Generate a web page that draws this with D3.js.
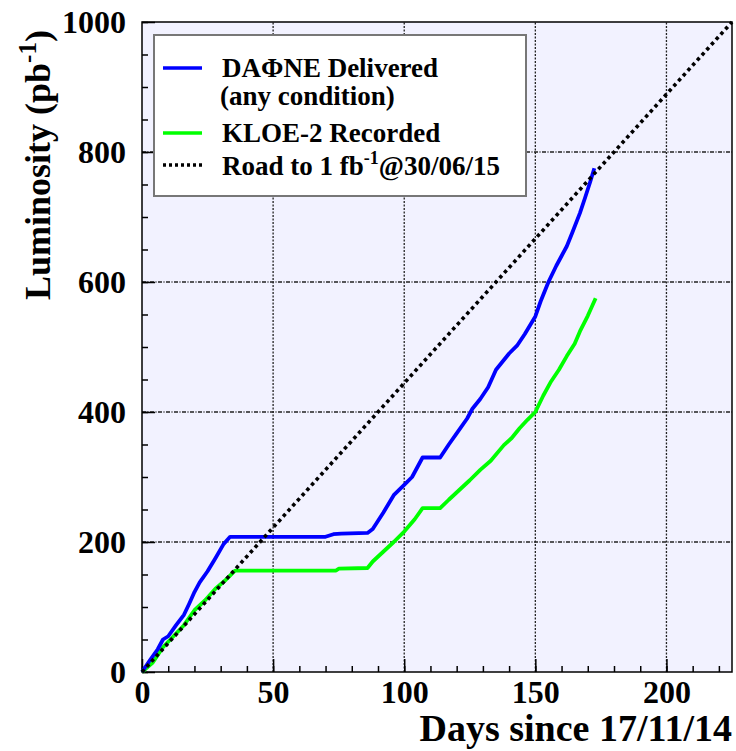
<!DOCTYPE html>
<html>
<meta charset="utf-8">
<style>
body { margin: 0; background: #fff; }
text { font-family: "Liberation Serif", "DejaVu Serif", serif; font-weight: bold; fill: #000; }
</style>
<body>
<script src="https://d3js.org/d3.v7.min.js"></script>
<script>
// DAFNE delivered luminosity, days since 17/11/14 vs pb^-1
var deliveredDays = [0, 3, 6, 8, 10, 13, 16, 18, 20, 22, 25, 28, 31, 33.6, 50, 70, 73, 76, 86, 88, 92, 96, 100, 103, 107, 113.7,
  117, 120, 124, 126, 129, 132, 135, 137, 140, 143, 146, 150, 152, 155, 158, 160, 162, 164, 167, 169, 171, 172.5];
var deliveredLumi = [0, 18, 35, 50, 55, 72, 88, 105, 123, 138, 155, 175, 196, 208, 208, 208, 212, 213, 214, 220, 245, 272, 288, 300, 330, 330,
  350, 367, 390, 405, 420, 438, 465, 475, 490, 502, 520, 547, 570, 600, 625, 640, 655, 675, 706, 730, 755, 775];

// KLOE-2 recorded
var recordedDays = [0, 4, 8, 12, 16, 20, 24, 28, 32, 35.5, 50, 74, 75, 86, 88, 92, 96, 100, 104, 107, 113.7,
  117, 121, 125, 129, 133, 138, 141, 144, 147, 150, 153, 156, 159, 162, 165, 167, 170, 173];
var recordedLumi = [0, 14, 38, 55, 72, 95, 110, 128, 142, 156, 156, 156, 159, 160, 170, 185, 200, 216, 235, 252, 252,
  265, 280, 295, 311, 325, 349, 360, 375, 388, 400, 425, 447, 465, 486, 505, 524, 548, 575];

// road to 1 fb^-1 at 30/06/15 (day 225)
var roadDays = [0, 225];
var roadLumi = [0, 1000];

var xTicks = [0, 50, 100, 150, 200];
var yTicks = [0, 200, 400, 600, 800, 1000];

var width = 736, height = 751;
var margin = {top: 22, right: 4, bottom: 79, left: 142};

var x = d3.scaleLinear().domain([0, 225]).range([margin.left, width - margin.right]);
var y = d3.scaleLinear().domain([0, 1000]).range([height - margin.bottom, margin.top]);

var svg = d3.select("body").append("svg")
    .attr("width", width)
    .attr("height", height);

// plot area background
svg.append("rect")
    .attr("x", x(0)).attr("y", y(1000))
    .attr("width", x(225) - x(0)).attr("height", y(0) - y(1000))
    .attr("fill", "#f2f2ff");

// grid
svg.selectAll(".gx").data(xTicks.filter(function(d) { return d > 0; }))
  .enter().append("line")
    .attr("x1", function(d) { return x(d); }).attr("x2", function(d) { return x(d); })
    .attr("y1", y(0)).attr("y2", y(1000))
    .attr("stroke", "#222").attr("stroke-width", 1.3).attr("stroke-dasharray", "2,1.5");
svg.selectAll(".gy").data(yTicks.filter(function(d) { return d > 0 && d < 1000; }))
  .enter().append("line")
    .attr("x1", x(0)).attr("x2", x(225))
    .attr("y1", function(d) { return y(d); }).attr("y2", function(d) { return y(d); })
    .attr("stroke", "#222").attr("stroke-width", 1.3).attr("stroke-dasharray", "4,1.5,1,1.5");

// axes: major ticks inside, minor ticks
function styleAxis(g) {
  g.select(".domain").remove();
  g.selectAll("line").attr("stroke", "#000").attr("stroke-width", 1.5);
  g.selectAll("text")
      .style("font-size", "32px")
      .style("font-family", "Liberation Serif")
      .style("font-weight", "bold");
}
svg.append("g")
    .attr("transform", "translate(0," + y(0) + ")")
    .call(d3.axisBottom(x).tickValues(d3.range(0, 226, 10)).tickSize(-6).tickFormat(""))
    .call(styleAxis);
svg.append("g")
    .attr("transform", "translate(0," + y(0) + ")")
    .call(d3.axisBottom(x).tickValues(xTicks).tickSize(-13).tickPadding(8).tickFormat(d3.format("d")))
    .call(styleAxis);
svg.append("g")
    .attr("transform", "translate(" + x(0) + ",0)")
    .call(d3.axisLeft(y).tickValues(d3.range(0, 1001, 50)).tickSize(-6).tickFormat(""))
    .call(styleAxis);
svg.append("g")
    .attr("transform", "translate(" + x(0) + ",0)")
    .call(d3.axisLeft(y).tickValues(yTicks).tickSize(-13).tickPadding(16).tickFormat(d3.format("d")))
    .call(styleAxis);

// frame
svg.append("rect")
    .attr("x", x(0)).attr("y", y(1000))
    .attr("width", x(225) - x(0)).attr("height", y(0) - y(1000))
    .attr("fill", "none").attr("stroke", "#000").attr("stroke-width", 1.5);

// curves
var line = d3.line()
    .x(function(d) { return x(d[0]); })
    .y(function(d) { return y(d[1]); });

svg.append("path")
    .datum(d3.zip(recordedDays, recordedLumi))
    .attr("d", line).attr("fill", "none")
    .attr("stroke", "#00ff00").attr("stroke-width", 3.8).attr("stroke-linejoin", "round");
svg.append("path")
    .datum(d3.zip(deliveredDays, deliveredLumi))
    .attr("d", line).attr("fill", "none")
    .attr("stroke", "#0000ff").attr("stroke-width", 3.8).attr("stroke-linejoin", "round");
svg.append("path")
    .datum(d3.zip(roadDays, roadLumi))
    .attr("d", line).attr("fill", "none")
    .attr("stroke", "#000").attr("stroke-width", 3.6).attr("stroke-dasharray", "3.5,3.5");

// axis titles
svg.append("text")
    .attr("x", x(225)).attr("y", 741)
    .attr("text-anchor", "end")
    .attr("font-size", "38px")
    .text("Days since 17/11/14");

var yt = svg.append("text")
    .attr("transform", "translate(50,165) rotate(-90)")
    .attr("text-anchor", "middle")
    .attr("font-size", "36px");
yt.append("tspan").text("Luminosity (pb");
yt.append("tspan").attr("font-size", "25px").attr("dy", "-14").text("-1");
yt.append("tspan").attr("dy", "14").text(")");

// legend
svg.append("rect")
    .attr("x", 154).attr("y", 35)
    .attr("width", 372).attr("height", 161)
    .attr("fill", "#fff").attr("stroke", "#777").attr("stroke-width", 2);

var legendItems = [
  {y: 68, color: "#0000ff", dash: null},
  {y: 133, color: "#00ff00", dash: null},
  {y: 165, color: "#000", dash: "3,3"}
];
legendItems.forEach(function(d) {
  svg.append("line")
      .attr("x1", 163).attr("x2", 202)
      .attr("y1", d.y).attr("y2", d.y)
      .attr("stroke", d.color).attr("stroke-width", 3.4)
      .attr("stroke-dasharray", d.dash);
});

svg.append("text").attr("x", 222).attr("y", 77).attr("font-size", "27px").text("DAΦNE Delivered");
svg.append("text").attr("x", 220).attr("y", 105).attr("font-size", "27px").text("(any condition)");
svg.append("text").attr("x", 222).attr("y", 142).attr("font-size", "27px").text("KLOE-2 Recorded");
var road = svg.append("text").attr("x", 222).attr("y", 175).attr("font-size", "27px");
road.append("tspan").text("Road to 1 fb");
road.append("tspan").attr("font-size", "18px").attr("dy", "-11").text("-1");
road.append("tspan").attr("dy", "11").text("@30/06/15");
</script>
</body>
</html>
